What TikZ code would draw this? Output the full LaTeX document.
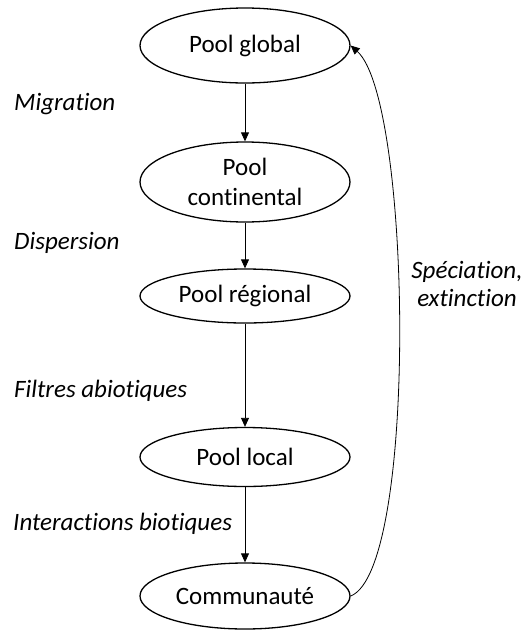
\documentclass[tikz,border=0pt]{standalone}
\usepackage{fontspec}
\setmainfont{Carlito}[Ligatures={NoCommon},RawFeature={-liga;-clig;-dlig}]
\usetikzlibrary{shapes.geometric,arrows.meta}
\begin{document}
\begin{tikzpicture}[x=1pt,y=-1pt,
  pool/.style={ellipse,draw,line width=1.3pt,inner sep=0pt,minimum width=210pt,
    align=center,font=\fontsize{25}{30}\selectfont},
  lab/.style={anchor=west,inner sep=0pt,font=\fontsize{25}{30}\selectfont\itshape},
  conn/.style={line width=0.8pt,-{Triangle[length=9pt,width=8pt]}}]
\useasboundingbox (0,0) rectangle (527,630);
\node[pool,minimum height=75pt] (g) at (245,45.5) {Pool global};
\node[pool,minimum height=80pt] (c) at (245,182) {Pool\\continental};
\node[pool,minimum height=54pt] (r) at (245,296) {Pool régional};
\node[pool,minimum height=59pt] (l) at (245,457) {Pool local};
\node[pool,minimum height=66pt] (m) at (245,596) {Communauté};
\node[lab] (t1) at (14,104) {Migration};
\node[lab] (t2) at (14,243) {Dispersion};
\node[lab] (t3) at (14,391) {Filtres abiotiques};
\node[lab] (t4) at (13,524) {Interactions biotiques};
\node[inner sep=0pt,align=center,font=\fontsize{25}{28}\selectfont\itshape] (s) at (467,284) {Spéciation,\\extinction};
\draw[conn] (g) -- (c);
\draw[conn] (c) -- (r);
\draw[conn] (r) -- (l);
\draw[conn] (l) -- (m);
\draw[conn] (m.east) .. controls (418,570) and (412,100) .. (g.east);
\end{tikzpicture}
\end{document}
